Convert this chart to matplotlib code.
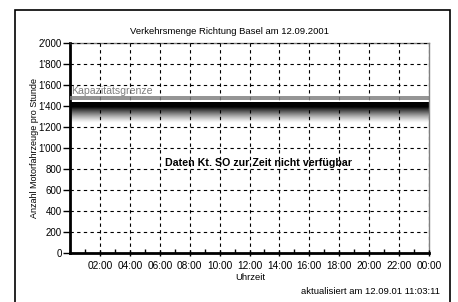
import matplotlib
matplotlib.use("Agg")
import matplotlib.pyplot as plt
import matplotlib.patches as patches
import numpy as np
from matplotlib.colors import LinearSegmentedColormap

title = "Verkehrsmenge Richtung Basel am 12.09.2001"
ylabel = "Anzahl Motorfahrzeuge pro Stunde"
xlabel = "Uhrzeit"
updated = "aktualisiert am 12.09.01 11:03:11"
note = "Daten Kt. SO zur Zeit nicht verfügbar"
cap_label = "Kapazitätsgrenze"

y_ticks = [0, 200, 400, 600, 800, 1000, 1200, 1400, 1600, 1800, 2000]
y_ticklabels = ["0", "200", "400", "600", "800", "1'000", "1'200", "1'400", "1'600", "1'800", "2'000"]
x_ticks = [2, 4, 6, 8, 10, 12, 14, 16, 18, 20, 22, 24]
x_ticklabels = ["02:00", "04:00", "06:00", "08:00", "10:00", "12:00", "14:00",
                "16:00", "18:00", "20:00", "22:00", "00:00"]
capacity_upper = 1488
capacity_lower = 1462
band_top = 1440
band_solid = 1395
band_fade = 1240

plt.rcParams['font.family'] = ['Liberation Sans', 'DejaVu Sans']
fig = plt.figure(figsize=(4.58, 3.02), dpi=100)
ax = fig.add_axes([70/458, 49/302, 359/458, 210/302])

ax.set_xlim(0, 24)
ax.set_ylim(0, 2000)

# gradient band
n = 200
vals = np.linspace(band_fade, band_top, n)
grad = np.clip((vals - band_fade) / (band_solid - band_fade), 0, 1) ** 1.3
cmap = LinearSegmentedColormap.from_list("wb", ["white", "black"])
ax.imshow(grad[:, None], extent=[0, 24, band_fade, band_top], origin='lower',
          aspect='auto', cmap=cmap, vmin=0, vmax=1, zorder=1, interpolation='bilinear')

ax.axhline(capacity_upper, color='#808080', lw=1.2, zorder=3)
ax.axhline(capacity_lower, color='#808080', lw=1.2, zorder=3)
ax.text(0.1, capacity_upper + 12, cap_label, color='#808080', fontsize=7.6, va='bottom', ha='left', zorder=4)

ax.set_yticks(y_ticks)
ax.set_yticklabels(y_ticklabels)
ax.set_xticks(x_ticks)
ax.set_xticklabels(x_ticklabels)
ax.set_xticks(np.arange(1, 24, 2), minor=True)
ax.tick_params(axis='y', direction='out', length=5, width=1, labelsize=7, pad=1)
ax.tick_params(axis='x', which='major', direction='inout', length=5, width=1, labelsize=7.3, pad=3)
ax.tick_params(axis='x', which='minor', direction='in', length=3, width=1)

ax.grid(True, which='major', color='black', linestyle=(0, (3, 3)), lw=0.8, zorder=2)
ax.set_axisbelow(False)

for s in ['left', 'bottom']:
    ax.spines[s].set_linewidth(2)
    ax.spines[s].set_color('black')
for s in ['top', 'right']:
    ax.spines[s].set_linewidth(1)
    ax.spines[s].set_color('#808080')

ax.text(12.6, 861, note, fontsize=7.7, fontweight='bold', ha='center', va='center', zorder=5)

fig.text(229/458, 1 - 32/302, title, fontsize=6.8, ha='center', va='center')
fig.text(250/458, 1 - 278/302, xlabel, fontsize=6.8, ha='center', va='center')
fig.text(440/458, 1 - 292/302, updated, fontsize=6.8, ha='right', va='center')
fig.text(35/458, 1 - 148/302, ylabel, fontsize=6.5, rotation=90, ha='center', va='center')

border = patches.Rectangle((15/458, -0.05), (450 - 15)/458, 1.05 - 10/302,
                           transform=fig.transFigure, fill=False, edgecolor='black', lw=1.2, clip_on=False)
fig.patches.append(border)

fig.savefig("out.png", dpi=100)
